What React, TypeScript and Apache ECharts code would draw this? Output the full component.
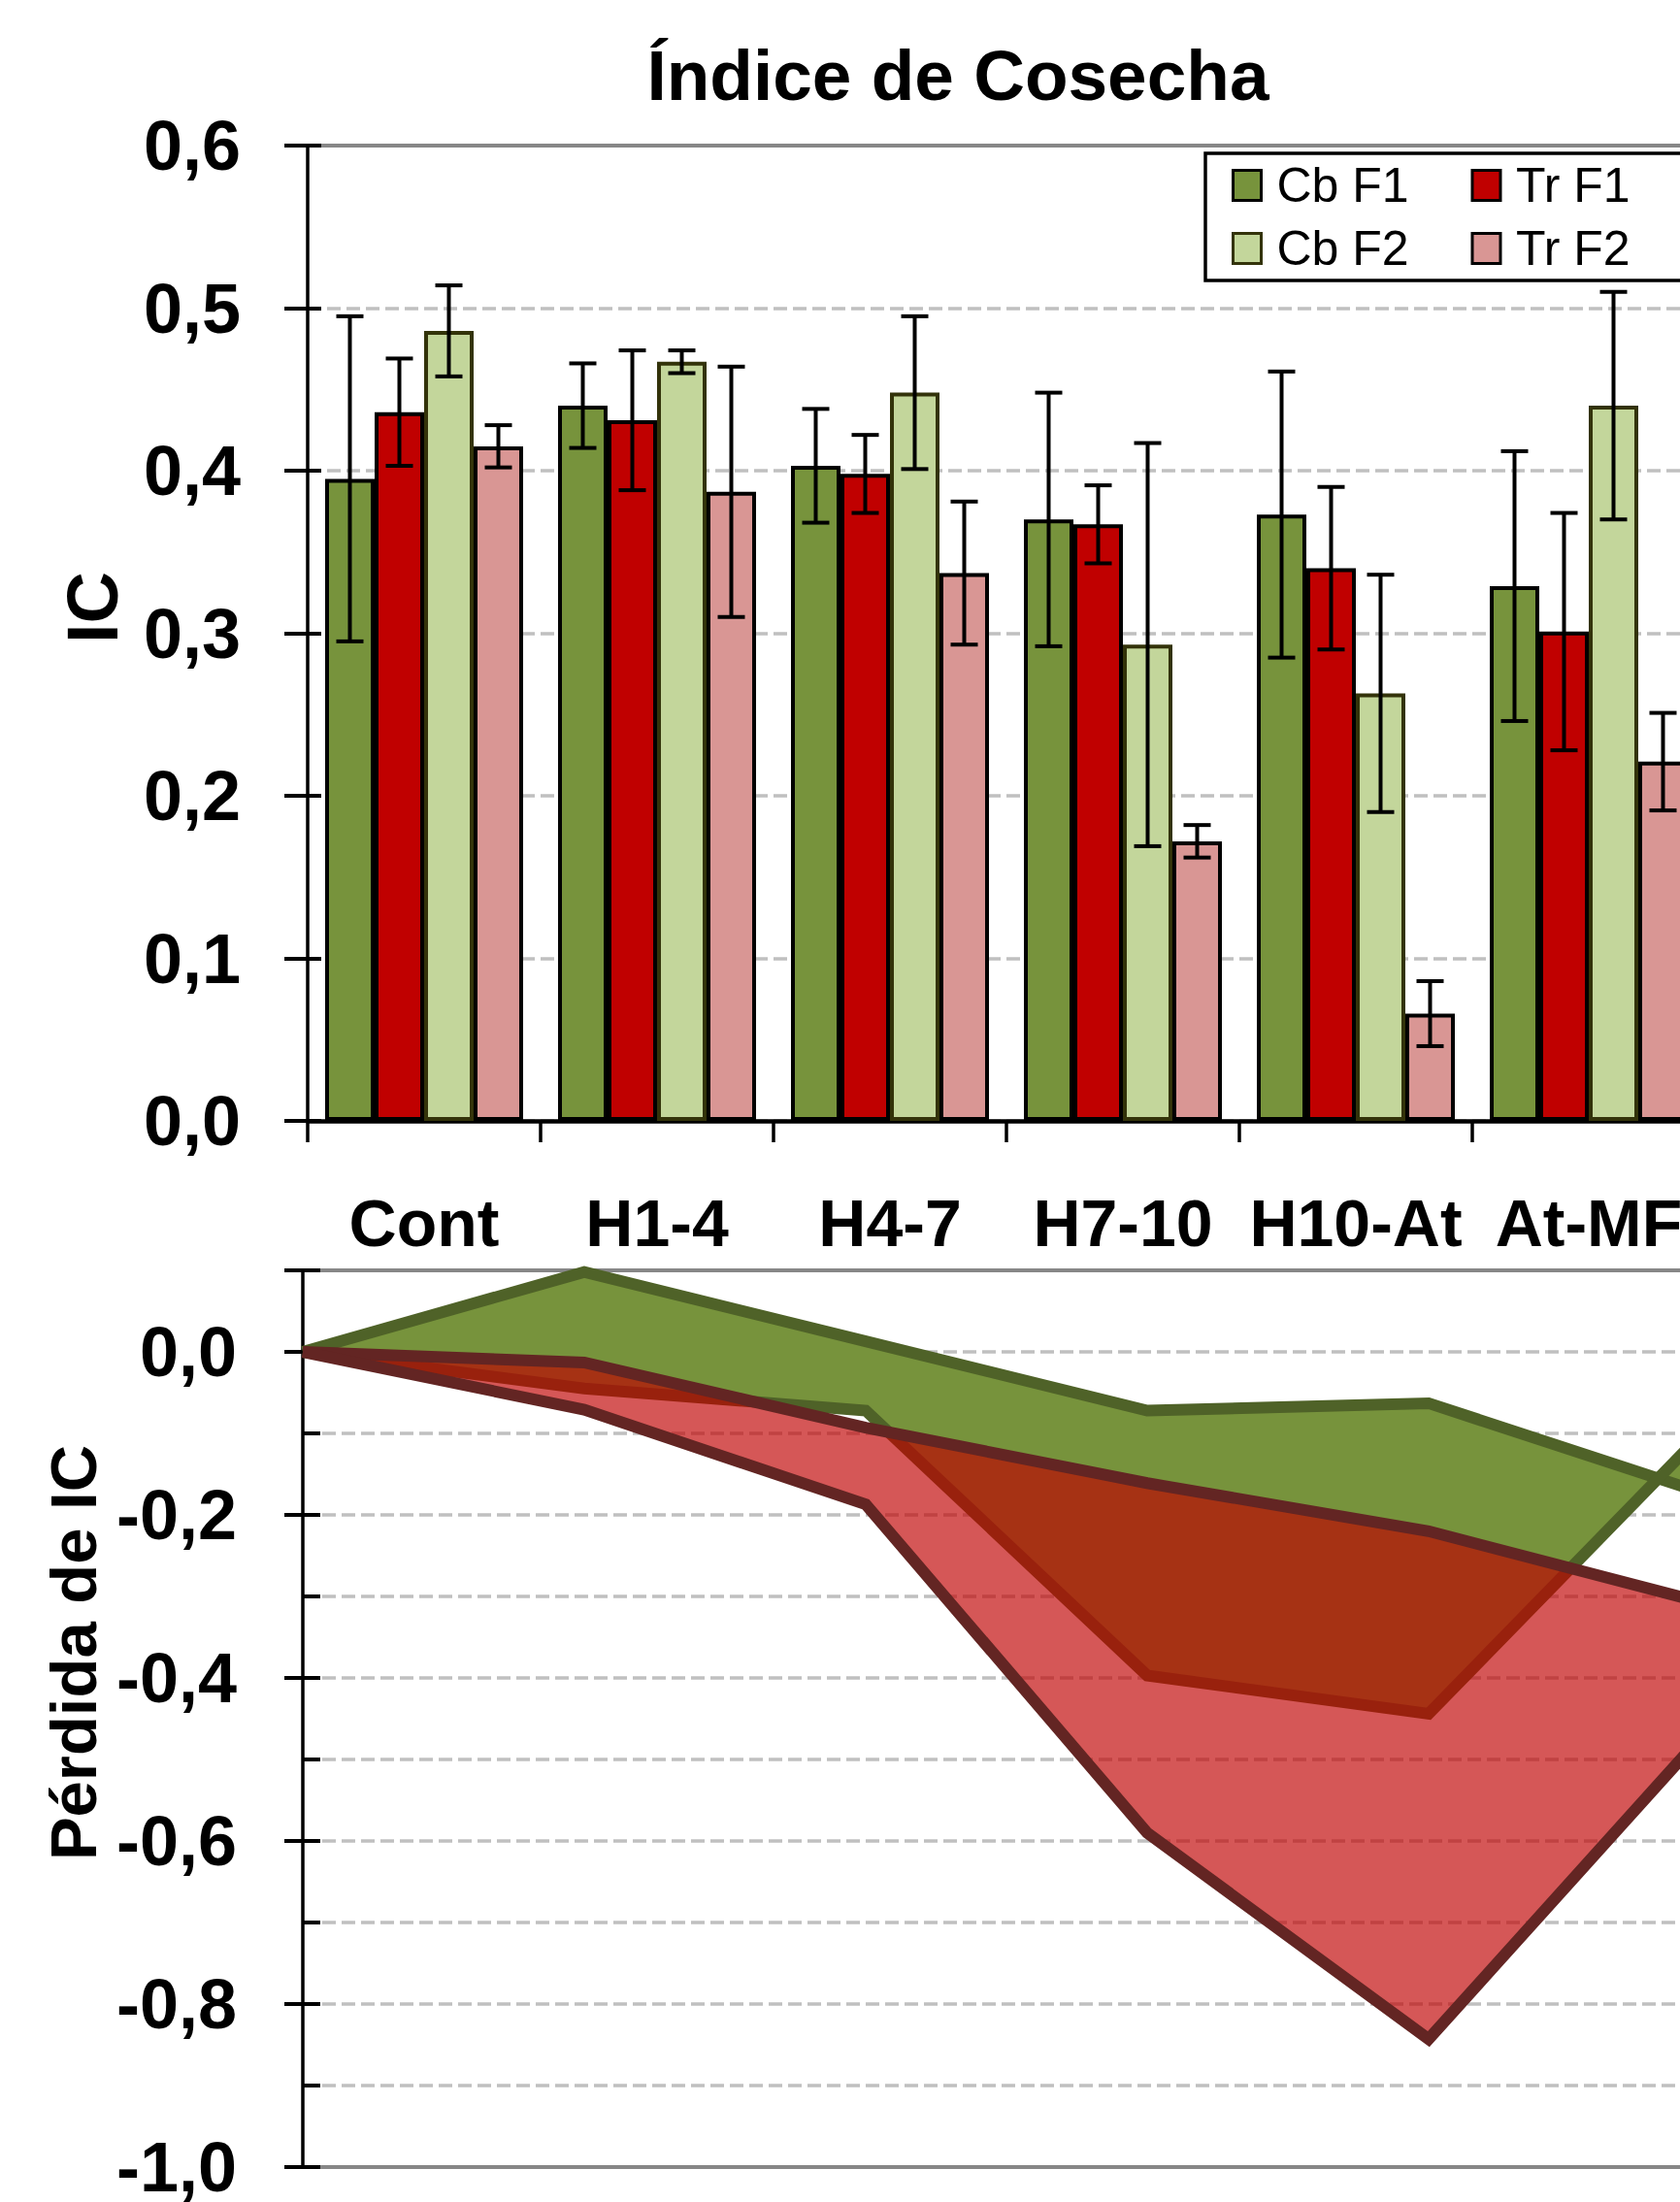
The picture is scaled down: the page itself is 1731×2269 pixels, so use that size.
import React, { useEffect, useRef } from 'react';
import * as echarts from 'echarts';

const FONT = '"Liberation Sans", Arial, sans-serif';

const CATEGORIES = ['Cont', 'H1-4', 'H4-7', 'H7-10', 'H10-At', 'At-MF'];
const BAR_NAMES = ['Cb F1', 'Tr F1', 'Cb F2', 'Tr F2'];
const LEGEND_ORDER = ['Cb F1', 'Cb F2', 'Tr F1', 'Tr F2'];

const CB_F1 = [0.395, 0.440, 0.403, 0.370, 0.373, 0.329];
const CB_F1_ERR = [0.100, 0.026, 0.035, 0.078, 0.088, 0.083];
const TR_F1 = [0.436, 0.431, 0.398, 0.367, 0.340, 0.301];
const TR_F1_ERR = [0.033, 0.043, 0.024, 0.024, 0.050, 0.073];
const CB_F2 = [0.486, 0.467, 0.448, 0.293, 0.263, 0.440];
const CB_F2_ERR = [0.028, 0.007, 0.047, 0.124, 0.073, 0.070];
const TR_F2 = [0.415, 0.387, 0.337, 0.172, 0.066, 0.221];
const TR_F2_ERR = [0.013, 0.077, 0.044, 0.010, 0.020, 0.030];

// Pérdida de IC (lower panel)
const LOSS_CB_F1 = [0, 0.098, 0.013, -0.072, -0.063, -0.176];
const LOSS_CB_F2 = [0, -0.045, -0.072, -0.397, -0.444, -0.090];
const LOSS_TR_F1 = [0, -0.013, -0.093, -0.161, -0.220, -0.310];
const LOSS_TR_F2 = [0, -0.071, -0.187, -0.590, -0.843, -0.460];

const BAR_VALUES = [CB_F1, TR_F1, CB_F2, TR_F2];
const BAR_ERRS = [CB_F1_ERR, TR_F1_ERR, CB_F2_ERR, TR_F2_ERR];
const BAR_FILLS = ['#77933c', '#c00000', '#c3d69b', '#d99694'];
const BAR_BORDERS = ['#000000', '#000000', '#33330a', '#000000'];

const fmt = (v: number) => v.toFixed(1).replace('.', ',');

function bandPolygon(upper: number[], lower: number[], fill: string) {
  return (params: any, api: any) => {
    if (params.dataIndex !== 0) return { type: 'group', children: [] };
    const pts: number[][] = [];
    for (let i = 0; i < upper.length; i++) pts.push(api.coord([i, upper[i]]));
    for (let i = lower.length - 1; i >= 0; i--) pts.push(api.coord([i, lower[i]]));
    return { type: 'polygon', shape: { points: pts }, style: { fill } };
  };
}

export default function App() {
  const ref = useRef<HTMLDivElement>(null);

  useEffect(() => {
    if (!ref.current) return;
    const chart = echarts.init(ref.current, undefined, { renderer: 'svg' });

    const errData: number[][] = [];
    for (let s = 0; s < 4; s++) {
      for (let i = 0; i < CATEGORIES.length; i++) {
        errData.push([i, BAR_VALUES[s][i] - BAR_ERRS[s][i], BAR_VALUES[s][i] + BAR_ERRS[s][i], s]);
      }
    }

    const barSeries = BAR_NAMES.map((name, s) => ({
      name,
      type: 'bar',
      xAxisIndex: 0,
      yAxisIndex: 0,
      data: BAR_VALUES[s],
      barGap: '0%',
      barCategoryGap: '15%',
      itemStyle: { color: BAR_FILLS[s], borderColor: BAR_BORDERS[s], borderWidth: 4 },
    }));

    const lossLine = (name: string, data: number[], color: string) => ({
      name,
      type: 'line',
      xAxisIndex: 2,
      yAxisIndex: 2,
      data,
      symbol: 'none',
      lineStyle: { color, width: 12, join: 'miter', miterLimit: 10 },
      z: 3,
    });

    const dashed = { show: true, lineStyle: { color: '#c0c0c0', width: 3.5, type: [14, 6] } };

    const option: any = {
      animation: false,
      backgroundColor: '#ffffff',
      title: {
        text: 'Índice de Cosecha',
        left: 'center',
        top: 36,
        textStyle: { fontFamily: FONT, fontSize: 73, fontWeight: 'bold', color: '#000' },
      },
      legend: {
        data: LEGEND_ORDER,
        orient: 'vertical',
        left: 1242,
        top: 158,
        height: 150,
        padding: [8, 20, 8, 27],
        itemGap: 15,
        itemWidth: 29,
        itemHeight: 31,
        icon: 'rect',
        borderColor: '#000',
        borderWidth: 3.5,
        backgroundColor: '#fff',
        itemStyle: { borderWidth: 3 },
        formatter: (name: string) => `{s|}{t|${name}}`,
        textStyle: {
          fontFamily: FONT,
          fontSize: 50,
          color: '#000',
          rich: {
            s: { width: 11, height: 50 },
            t: { fontFamily: FONT, fontSize: 50, color: '#000', width: 185, lineHeight: 50 },
          },
        },
      },
      grid: [
        { left: 317, top: 150, width: 1440, height: 1005 },
        { left: 312, top: 1309, width: 1450, height: 926 },
      ],
      xAxis: [
        {
          gridIndex: 0, type: 'category', data: CATEGORIES, position: 'bottom',
          axisLine: { onZero: false, lineStyle: { color: '#000', width: 4.5 } },
          axisTick: { show: true, length: 22, lineStyle: { color: '#000', width: 3.5 } },
          axisLabel: { interval: 0, margin: 71, fontFamily: FONT, fontSize: 68, fontWeight: 'bold', color: '#000' },
          splitLine: { show: false },
        },
        {
          gridIndex: 0, type: 'category', data: CATEGORIES, position: 'top',
          axisLine: { onZero: false, lineStyle: { color: '#878787', width: 4 } },
          axisTick: { show: false }, axisLabel: { show: false }, splitLine: { show: false },
        },
        {
          gridIndex: 1, type: 'category', data: CATEGORIES, position: 'bottom', boundaryGap: false,
          axisLine: { onZero: false, lineStyle: { color: '#878787', width: 4 } },
          axisTick: { show: false }, axisLabel: { show: false }, splitLine: { show: false },
        },
        {
          gridIndex: 1, type: 'category', data: CATEGORIES, position: 'top', boundaryGap: false,
          axisLine: { onZero: false, lineStyle: { color: '#878787', width: 4 } },
          axisTick: { show: false }, axisLabel: { show: false }, splitLine: { show: false },
        },
      ],
      yAxis: [
        {
          gridIndex: 0, type: 'value', position: 'left', min: 0, max: 0.6, interval: 0.1,
          name: 'IC', nameLocation: 'middle', nameGap: 185,
          nameTextStyle: { fontFamily: FONT, fontSize: 74, fontWeight: 'bold', color: '#000', padding: [0, 0, 0, 53] },
          axisLine: { show: true, lineStyle: { color: '#000', width: 3.5 } },
          axisTick: { show: true, inside: false, length: 24, lineStyle: { color: '#000', width: 4 } },
          axisLabel: { margin: 69, fontFamily: FONT, fontSize: 72, fontWeight: 'bold', color: '#000', formatter: fmt },
          splitLine: dashed,
        },
        {
          gridIndex: 0, type: 'value', position: 'left', min: 0, max: 0.6, interval: 0.1,
          axisLine: { show: false },
          axisTick: { show: true, inside: true, length: 14, lineStyle: { color: '#000', width: 4 } },
          axisLabel: { show: false },
          splitLine: { show: false },
        },
        {
          gridIndex: 1, type: 'value', position: 'left', min: -1.0, max: 0.1, interval: 0.2,
          name: 'Pérdida de IC', nameLocation: 'middle', nameGap: 203,
          nameTextStyle: { fontFamily: FONT, fontSize: 67, fontWeight: 'bold', color: '#000', padding: [0, 0, 0, 136] },
          axisLine: { show: true, onZero: false, lineStyle: { color: '#000', width: 3.5 } },
          axisTick: { show: true, inside: false, length: 19, lineStyle: { color: '#000', width: 4 } },
          axisLabel: {
            margin: 68, fontFamily: FONT, fontSize: 72, fontWeight: 'bold', color: '#000',
            formatter: (v: number) => (v > 0.05 ? '' : fmt(v)),
          },
          splitLine: { show: false },
        },
        {
          gridIndex: 1, type: 'value', position: 'left', min: -1.0, max: 0.1, interval: 0.1,
          axisLine: { show: false },
          axisTick: { show: true, inside: true, length: 18, lineStyle: { color: '#000', width: 4 } },
          axisLabel: { show: false },
          splitLine: dashed,
        },
      ],
      series: [
        ...barSeries,
        {
          name: 'error',
          type: 'custom',
          xAxisIndex: 0,
          yAxisIndex: 0,
          data: errData,
          encode: { x: 0, y: [1, 2] },
          z: 5,
          renderItem: (params: any, api: any) => {
            const cat = api.value(0);
            const lo = api.value(1);
            const hi = api.value(2);
            const s = api.value(3);
            const band = api.size([1, 0])[0];
            const bw = (band * 0.85) / 4;
            const pLo = api.coord([cat, lo]);
            const pHi = api.coord([cat, hi]);
            const x = pLo[0] + (s - 1.5) * bw;
            const cap = 14;
            const st = { stroke: '#000', lineWidth: 4 };
            return {
              type: 'group',
              children: [
                { type: 'line', shape: { x1: x, y1: pLo[1], x2: x, y2: pHi[1] }, style: st },
                { type: 'line', shape: { x1: x - cap, y1: pHi[1], x2: x + cap, y2: pHi[1] }, style: st },
                { type: 'line', shape: { x1: x - cap, y1: pLo[1], x2: x + cap, y2: pLo[1] }, style: st },
              ],
            };
          },
        },
        {
          name: 'Banda Cb',
          type: 'custom',
          xAxisIndex: 2,
          yAxisIndex: 2,
          clip: true,
          data: CATEGORIES.map((_, i) => [i, LOSS_CB_F1[i], LOSS_CB_F2[i]]),
          encode: { x: 0, y: [1, 2] },
          z: 2,
          renderItem: bandPolygon(LOSS_CB_F1, LOSS_CB_F2, '#77933c'),
        },
        lossLine('Pérdida Cb F1', LOSS_CB_F1, '#4f6228'),
        lossLine('Pérdida Cb F2', LOSS_CB_F2, '#4f6228'),
        {
          name: 'Banda Tr',
          type: 'custom',
          xAxisIndex: 2,
          yAxisIndex: 2,
          clip: true,
          data: CATEGORIES.map((_, i) => [i, LOSS_TR_F1[i], LOSS_TR_F2[i]]),
          encode: { x: 0, y: [1, 2] },
          z: 4,
          renderItem: bandPolygon(LOSS_TR_F1, LOSS_TR_F2, 'rgba(192,0,0,0.66)'),
        },
        { ...lossLine('Pérdida Tr F1', LOSS_TR_F1, '#632523'), z: 5 },
        { ...lossLine('Pérdida Tr F2', LOSS_TR_F2, '#632523'), z: 5 },
      ],
    };

    chart.setOption(option);
    return () => chart.dispose();
  }, []);

  return (
    <div
      style={{
        position: 'fixed',
        left: 0,
        top: 0,
        width: 1731,
        height: 2269,
        overflow: 'hidden',
        background: '#fff',
      }}
    >
      <div ref={ref} style={{ width: 1974, height: 2269 }} />
    </div>
  );
}
